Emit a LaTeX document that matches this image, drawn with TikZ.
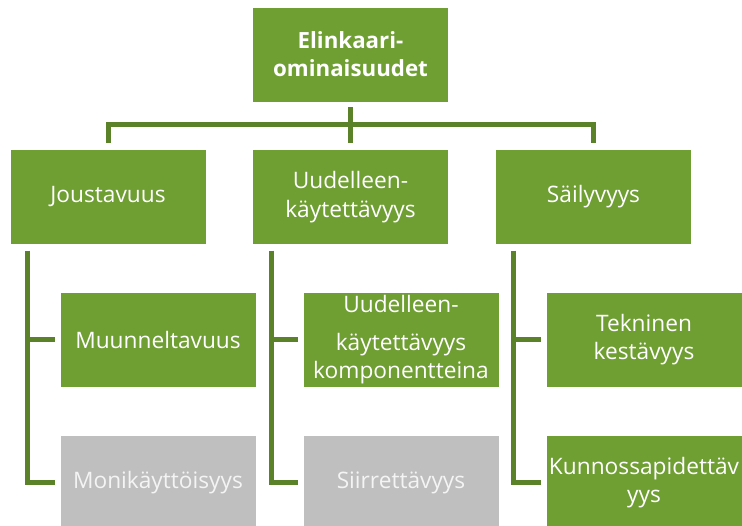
\documentclass[tikz,border=0pt]{standalone}
\usepackage{fontspec}
\setmainfont{Open Sans}
\definecolor{boxg}{HTML}{6F9E33}
\definecolor{lineg}{HTML}{5B8229}
\definecolor{boxgray}{HTML}{BFBFBF}
\definecolor{txtgray}{HTML}{F4F4F4}
\newcommand{\boxfont}{\fontsize{22.7}{28.5}\selectfont}
\begin{document}
\begin{tikzpicture}[x=1pt,y=-1pt,
  box/.style={fill=boxg, draw=white, line width=0.6pt, minimum width=196pt, minimum height=95pt,
    inner sep=0pt, text=white, align=center, font=\boxfont},
  graybox/.style={box, fill=boxgray, text=txtgray},
  boxtext/.style={text=white, inner sep=0pt, anchor=base, font=\boxfont},
  conn/.style={draw=lineg, line width=5pt}]
\useasboundingbox (0,0) rectangle (742,526);
\node[box, font=\fontsize{22.3}{28}\selectfont\bfseries] (top) at (350.5,54.5) {Elinkaari-\\ominaisuudet};
\node[box] (j) at (108,197) {Joustavuus};
\node[box] (u) at (350.5,197) {Uudelleen-\\käytettävyys};
\node[box] (s) at (593.5,197) {Säilyvyys};
\node[box] (m) at (158,339.5) {Muunneltavuus};
\node[graybox] (mk) at (158,482.5) {Monikäyttöisyys};
\node[box] (uk) at (401,340) {};
\node[boxtext] (uk1) at (401,313) {Uudelleen-};
\node[boxtext] (uk2) at (401,351) {käytettävyys};
\node[boxtext] (uk3) at (401,379) {komponentteina};
\node[graybox] (si) at (401,482.5) {Siirrettävyys};
\node[box] (t) at (644,339.5) {Tekninen\\kestävyys};
\node[box] (k) at (644,482.5) {Kunnossapidettäv\\yys};
\coordinate (bus) at (350.5,125);
\draw[conn] ([yshift=-5pt]top.south) -- ([yshift=6pt]u.north);
\draw[conn] ([yshift=6pt]j.north) |- (bus) -| ([yshift=6pt]s.north);
\draw[conn] ([xshift=18pt,yshift=-6pt]j.south west) |- ([xshift=-5pt]m.west);
\draw[conn] ([xshift=18pt,yshift=-6pt]j.south west) |- ([xshift=-5pt]mk.west);
\draw[conn] ([xshift=19pt,yshift=-6pt]u.south west) |- ([xshift=-5pt]uk.west);
\draw[conn] ([xshift=19pt,yshift=-6pt]u.south west) |- ([xshift=-5pt]si.west);
\draw[conn] ([xshift=18pt,yshift=-6pt]s.south west) |- ([xshift=-5pt]t.west);
\draw[conn] ([xshift=18pt,yshift=-6pt]s.south west) |- ([xshift=-5pt]k.west);
\end{tikzpicture}
\end{document}
